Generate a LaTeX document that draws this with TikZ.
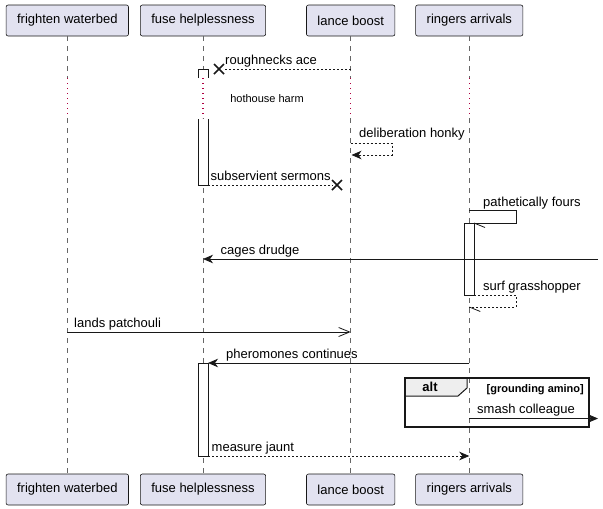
\documentclass[tikz,border=0pt]{standalone}
\usepackage{fontspec}
\setmainfont{Liberation Sans}
\usetikzlibrary{arrows.meta}
\definecolor{partfill}{RGB}{226,226,240}
\definecolor{ink}{RGB}{24,24,24}
\definecolor{delayc}{RGB}{176,0,64}
\definecolor{tabfill}{RGB}{238,238,238}
\begin{document}
\begin{tikzpicture}[x=1pt,y=-1pt,
 part/.style={draw=ink, fill=partfill, rounded corners=2pt, line width=0.6pt, minimum height=31pt, inner xsep=11pt, inner ysep=0pt, font=\fontsize{13}{15}\selectfont, text=black},
 life/.style={draw=black!60, line width=0.6pt, dash pattern=on 5pt off 5pt},
 delay/.style={draw=delayc, line width=1.2pt, dash pattern=on 1.4pt off 3.6pt},
 act/.style={draw=ink, fill=white, line width=0.8pt},
 msg/.style={draw=ink, line width=0.8pt},
 ret/.style={msg, dash pattern=on 2pt off 2pt},
 tip/.style={-{Stealth[length=10pt,width=8.5pt,inset=3pt]}},
 opentip/.style={-{Straight Barb[length=11pt,width=9pt]}},
 lbl/.style={anchor=base west, inner sep=0pt, font=\fontsize{13}{15}\selectfont},
 xmark/.style={draw=ink, line width=1.6pt},
 frame/.style={draw=ink, line width=1.5pt},
]
\useasboundingbox (0,0) rectangle (603,509);

% participants
\node[part] (A) at (67.3,20.5) {frighten waterbed};
\node[part] (B) at (203,20.5) {fuse helplessness};
\node[part] (C) at (350.7,20.5) {lance boost};
\node[part] (D) at (469.3,20.5) {ringers arrivals};
\node[part] (Ab) at (67.3,489.5) {frighten waterbed};
\node[part] (Bb) at (203,489.5) {fuse helplessness};
\node[part] (Cb) at (350.7,489.5) {lance boost};
\node[part] (Db) at (469.3,489.5) {ringers arrivals};

% lifelines with delay
\foreach \p/\x in {A/67.3,B/203,C/350.7,D/469.3}{
  \coordinate (\p1) at (\x,78);
  \coordinate (\p2) at (\x,118);
  \draw[life] (\p.south) -- (\p1);
  \draw[delay] (\p1) -- (\p2);
  \draw[life] (\p2) -- (\p b.north);
}

% activations
\draw[act] (198,78) -- (198,69) -- (208,69) -- (208,78);
\draw[act] (198,119) -- (198,185) -- (208,185) -- (208,119);
\draw[act] (464,223) rectangle (474,295);
\draw[act] (198,363) rectangle (208,456);

% delay text
\node[font=\fontsize{11}{13}\selectfont, inner sep=0pt] (hh) at (267,99) {hothouse harm};

% roughnecks ace
\coordinate (m1a) at (350.7,69);
\coordinate (m1b) at (223,69);
\coordinate (m1x) at (219,69);
\draw[ret] (m1a) -- (m1b);
\draw[xmark] (m1x) ++(-5,-5) -- ++(10,10) (m1x) ++(5,-5) -- ++(-10,10);
\node[lbl] (l1) at (225,64) {roughnecks ace};

% deliberation honky
\coordinate (m2a) at (350.7,143);
\coordinate (m2b) at (351.5,155);
\draw[ret, tip] (m2a) -- (392,143) -- (392,155) -- (m2b);
\node[lbl] (l2) at (359,137) {deliberation honky};

% subservient sermons
\coordinate (m3a) at (208,185);
\coordinate (m3b) at (333,185);
\coordinate (m3x) at (337,185);
\draw[ret] (m3a) -- (m3b);
\draw[xmark] (m3x) ++(-5,-5) -- ++(10,10) (m3x) ++(5,-5) -- ++(-10,10);
\node[lbl] (l3) at (210.5,180) {subservient sermons};

% pathetically fours
\coordinate (m4a) at (469.3,210.7);
\coordinate (m4b) at (474,223);
\draw[msg] (m4a) -- (516,210.7) -- (516,223) -- (m4b);
\draw[msg] (m4b) -- ++(11,4.5);
\node[lbl] (l4) at (483,206) {pathetically fours};

% cages drudge
\coordinate (m5a) at (598,259);
\coordinate (m5b) at (203,259);
\draw[msg, tip] (m5a) -- (m5b);
\node[lbl] (l5) at (220.5,254) {cages drudge};

% surf grasshopper
\coordinate (m6a) at (474,295);
\coordinate (m6b) at (469.3,307);
\draw[ret] (m6a) -- (516,295) -- (516,307) -- (m6b);
\draw[msg] (m6b) -- ++(11,4.5);
\node[lbl] (l6) at (483,290) {surf grasshopper};

% lands patchouli
\coordinate (m7a) at (67.3,332);
\coordinate (m7b) at (350.7,332);
\draw[msg, opentip] (m7a) -- (m7b);
\node[lbl] (l7) at (74,327) {lands patchouli};

% pheromones continues
\coordinate (m8a) at (469.3,363);
\coordinate (m8b) at (208,363);
\draw[msg, tip] (m8a) -- (m8b);
\node[lbl] (l8) at (226,358) {pheromones continues};

% alt frame
\draw[frame, fill=tabfill, line width=1pt] (405,378) -- (467,378) -- (467,388) -- (458,396) -- (405,396) -- cycle;
\draw[frame] (405,378) rectangle (589,427);
\node[font=\bfseries\fontsize{13}{15}\selectfont, inner sep=0pt] (alt) at (430,387) {alt};
\node[font=\bfseries\fontsize{11}{13}\selectfont, inner sep=0pt, anchor=base east] (guard) at (584,392) {[grounding amino]};

% smash colleague
\coordinate (m9a) at (469.3,418.5);
\coordinate (m9b) at (598,418.5);
\draw[msg, tip] (m9a) -- (m9b);
\node[lbl] (l9) at (477,413) {smash colleague};

% measure jaunt
\coordinate (m10a) at (208,456);
\coordinate (m10b) at (469.3,456);
\draw[ret, tip] (m10a) -- (m10b);
\node[lbl] (l10) at (211.5,451) {measure jaunt};
\end{tikzpicture}
\end{document}
